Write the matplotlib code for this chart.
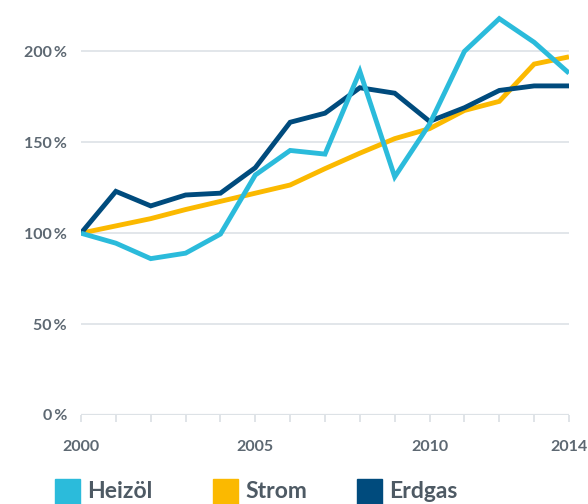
import matplotlib
matplotlib.use("Agg")
import matplotlib.pyplot as plt
from matplotlib.patches import Rectangle

plt.rcParams['font.family'] = ['Lato', 'DejaVu Sans']

years = list(range(2000, 2015))
heizoel = [100, 94.5, 86, 89, 99.5, 132, 145.5, 143.5, 189, 131, 160, 200, 218, 205, 188]
strom = [100, 104, 108, 113, 117.5, 122, 126.5, 135.5, 144, 152, 157.5, 167.5, 172.5, 193, 197]
erdgas = [100, 123, 115, 121, 122, 136, 161, 166, 180, 177, 161.5, 169, 178.5, 181, 181]
series_names = ["Heizöl", "Strom", "Erdgas"]
colors = ["#2bbbdb", "#fbb900", "#004b7d"]
yticks = [0, 50, 100, 150, 200]
ytick_labels = ["0\u2009%", "50\u2009%", "100\u2009%", "150\u2009%", "200\u2009%"]
xtick_labels = [2000, 2005, 2010, 2014]

W, H = 588, 504
fig = plt.figure(figsize=(W / 100, H / 100), dpi=100)
ax = fig.add_axes([81 / W, (H - 415) / H, 488 / W, 400 / H])

text_col = "#5d6872"
grid_col = "#dde2e6"

for y in yticks[1:]:
    ax.axhline(y, color=grid_col, lw=1.2, zorder=0)
ax.axhline(0, color=grid_col, lw=1.6, zorder=0)

for vals, c in zip([strom, erdgas, heizoel], [colors[1], colors[2], colors[0]]):
    ax.plot(years, vals, color=c, lw=3.5, solid_joinstyle='miter', solid_capstyle='butt', zorder=3)

ax.set_xlim(2000, 2014)
ax.set_ylim(0, 220)
for s in ax.spines.values():
    s.set_visible(False)

ax.set_yticks(yticks)
ax.set_yticklabels(ytick_labels)
ax.tick_params(axis='y', length=0, pad=10, labelsize=11.5, labelcolor=text_col)
for t in ax.get_yticklabels():
    t.set_fontweight('bold')

ax.set_xticks(years)
ax.set_xticklabels([str(y) if y in xtick_labels else "" for y in years])
ax.tick_params(axis='x', length=5, width=1.3, color=grid_col, pad=13, labelsize=11.5, labelcolor=text_col)
for t in ax.get_xticklabels():
    t.set_fontweight('bold')

# legend
leg_x = [55, 213, 357]
for name, c, x0 in zip(series_names, colors, leg_x):
    fig.patches.append(Rectangle((x0 / W, 0), 25 / W, 25 / H,
                                 transform=fig.transFigure, color=c, figure=fig))
    fig.text((x0 + 32) / W, (H - 498) / H, name, fontsize=16.5, fontweight='bold',
             color="#4e5a64", va='baseline', ha='left')

fig.savefig("out.png", dpi=100)
